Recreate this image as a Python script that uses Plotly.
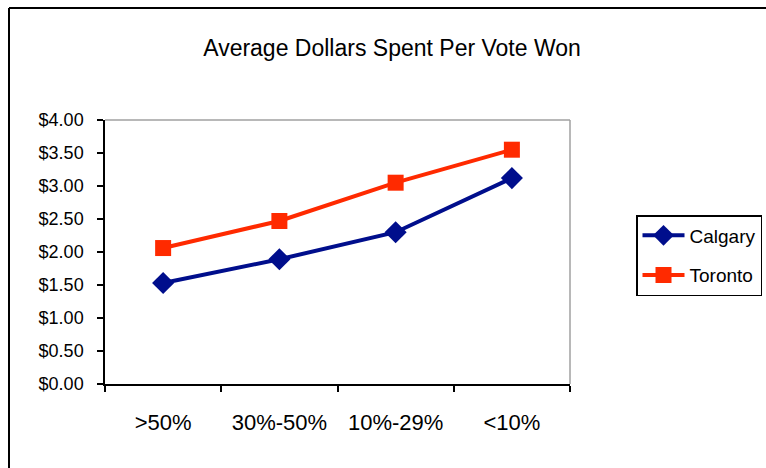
import plotly.graph_objects as go

categories = [">50%", "30%-50%", "10%-29%", "<10%"]
calgary = [1.53, 1.89, 2.30, 3.12]
toronto = [2.06, 2.47, 3.05, 3.55]
ytick_vals = [0, 0.5, 1, 1.5, 2, 2.5, 3, 3.5, 4]
ytick_text = ["$0.00", "$0.50", "$1.00", "$1.50", "$2.00", "$2.50", "$3.00", "$3.50", "$4.00"]

FONT = "Liberation Sans, Arial, sans-serif"
W, H = 766, 468
L, R, T, B = 105, 196, 120, 84
pw, ph = W - L - R, H - T - B

fig = go.Figure()
fig.add_trace(go.Scatter(
    x=categories, y=calgary, name="Calgary", mode="lines+markers",
    legendgroup="a",
    line=dict(color="#000E8C", width=4),
    marker=dict(symbol="diamond", size=17, color="#000E8C"),
))
fig.add_trace(go.Scatter(
    x=categories, y=toronto, name="Toronto", mode="lines+markers",
    legendgroup="b",
    line=dict(color="#FF2A00", width=4),
    marker=dict(symbol="square", size=16, color="#FF2A00"),
))

fig.update_layout(
    width=W, height=H,
    margin=dict(l=L, r=R, t=T, b=B, pad=0, autoexpand=False),
    paper_bgcolor="white", plot_bgcolor="white",
    font=dict(family=FONT, size=16, color="black"),
    title=dict(text="Average Dollars Spent Per Vote Won", x=392 / W, xanchor="center",
               y=1 - 48 / H, yanchor="middle", font=dict(family=FONT, size=23, color="black")),
    showlegend=True,
    legend=dict(x=(636 - L) / pw, xanchor="left", y=1 - (215 - T) / ph, yanchor="top",
                bordercolor="black", borderwidth=1.5, bgcolor="white",
                font=dict(family=FONT, size=19, color="black"),
                itemwidth=42, tracegroupgap=12),
    xaxis=dict(type="category", range=[-0.5, 3.5], tickson="boundaries",
               showline=True, linecolor="black", linewidth=1.5,
               ticks="outside", ticklen=6, tickcolor="black", tickwidth=1.5,
               showgrid=False, zeroline=False, mirror=False,
               tickfont=dict(family=FONT, size=22), ticklabelstandoff=18),
    yaxis=dict(range=[0, 4], tickvals=ytick_vals, ticktext=ytick_text,
               showline=True, linecolor="black", linewidth=1.5,
               ticks="outside", ticklen=6, tickcolor="black", tickwidth=1.5,
               showgrid=False, zeroline=False, ticklabelstandoff=10,
               tickfont=dict(family=FONT, size=18)),
    shapes=[
        # plot area border (top and right, grey)
        dict(type="line", xref="paper", yref="paper", x0=0, x1=1, y0=1, y1=1,
             line=dict(color="#A0A0A0", width=1.5)),
        dict(type="line", xref="paper", yref="paper", x0=1, x1=1, y0=0, y1=1,
             line=dict(color="#A0A0A0", width=1.5)),
        # outer chart border (top and left visible)
        dict(type="line", xref="paper", yref="paper",
             x0=(9 - L) / pw, x1=(W + 5 - L) / pw, y0=1 + (T - 8) / ph, y1=1 + (T - 8) / ph,
             line=dict(color="black", width=2)),
        dict(type="line", xref="paper", yref="paper",
             x0=(9 - L) / pw, x1=(9 - L) / pw, y0=1 + (T - 8) / ph, y1=-(B + 5) / ph,
             line=dict(color="black", width=2)),
    ],
)

fig.write_html("out.html")
